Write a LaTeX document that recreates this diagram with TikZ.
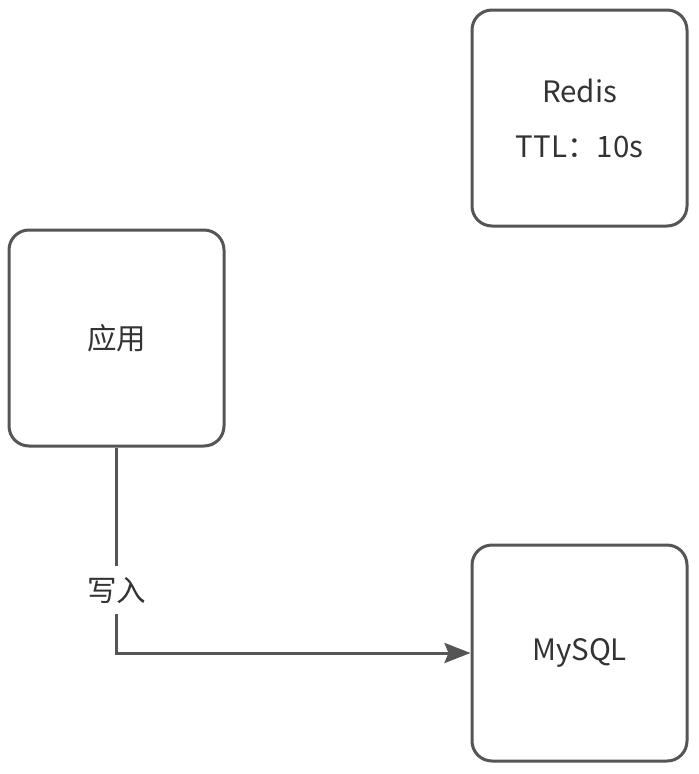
\documentclass[tikz,border=0pt]{standalone}
\usepackage{fontspec}
\setmainfont{Noto Sans CJK SC}
\usetikzlibrary{arrows.meta}
\definecolor{edge}{HTML}{555555}
\definecolor{txt}{HTML}{333333}
\tikzset{
  box/.style={draw=edge, line width=3pt, rounded corners=20pt, minimum width=215pt, minimum height=216pt, inner sep=0pt, text=txt, align=center, font=\fontsize{29.5}{55}\selectfont},
  conn/.style={draw=edge, line width=3pt, -{Stealth[length=26pt,width=20pt,inset=4pt]}},
  lbl/.style={fill=white, text=txt, font=\fontsize{29.5}{34}\selectfont, inner xsep=2pt, inner ysep=11pt}
}
\begin{document}
\begin{tikzpicture}[x=1pt,y=-1pt]
\path[use as bounding box, fill=white] (0,0) rectangle (699,774);
\node[box] (redis) at (579.5,118) {Redis\\TTL：10s};
\node[box] (app) at (116.5,338) {应用};
\node[box] (mysql) at (579.5,653) {MySQL};
\draw[conn] (app.south) |- node[lbl, pos=0.347] (w) {写入} (mysql.west);
\end{tikzpicture}
\end{document}
